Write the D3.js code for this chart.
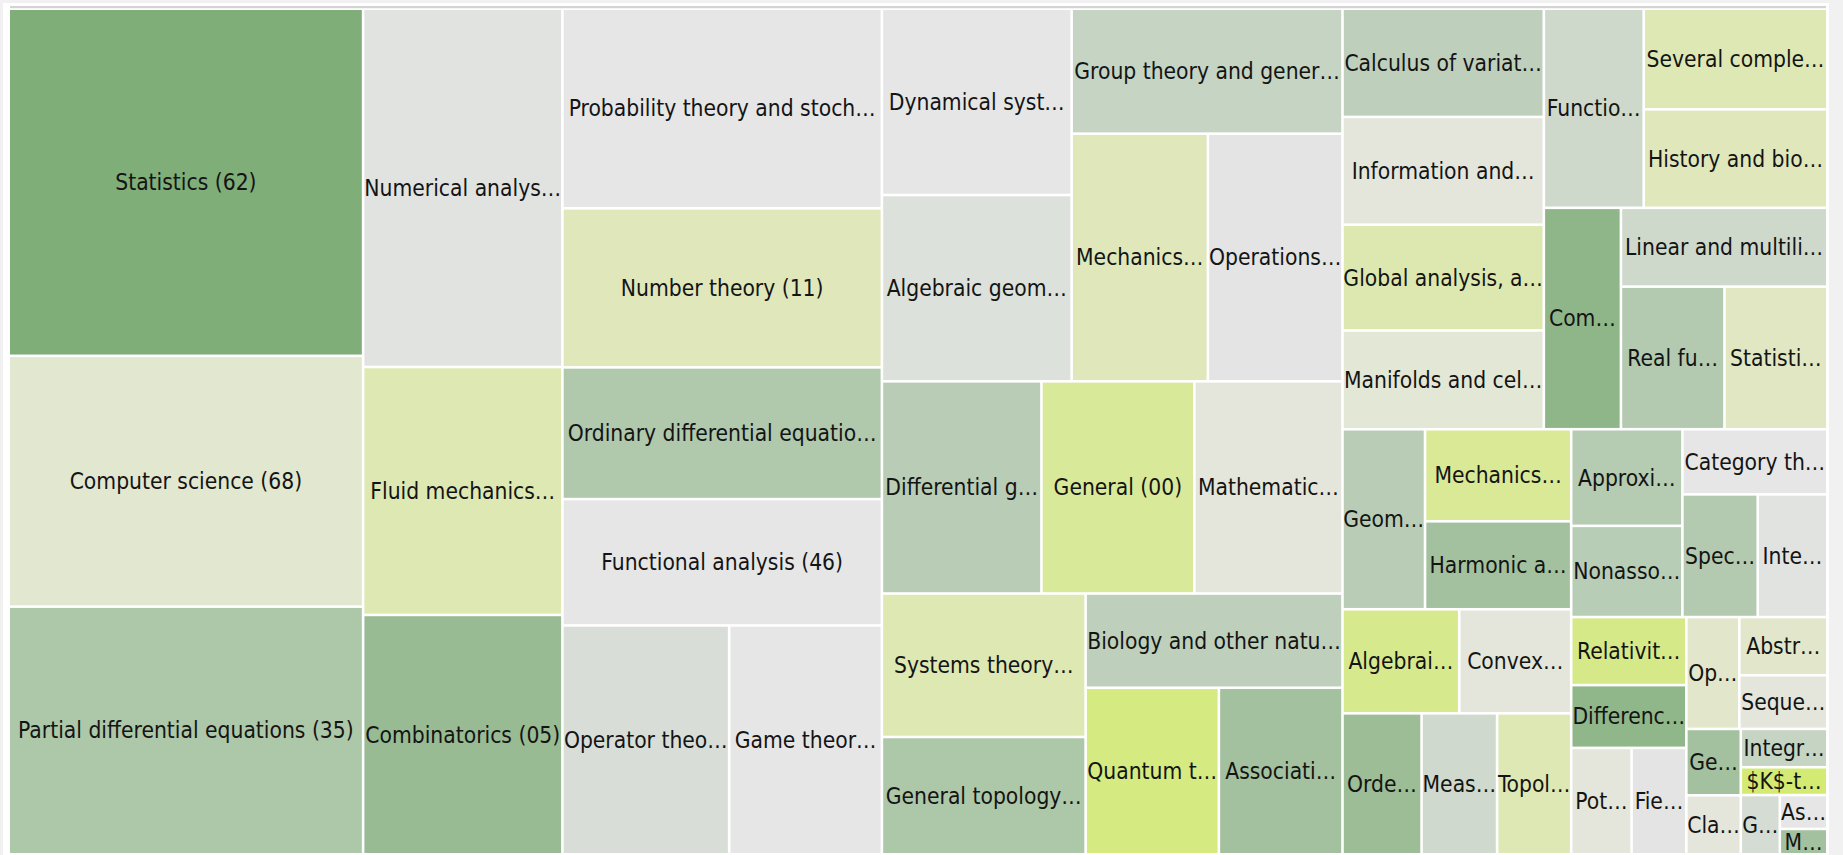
<!DOCTYPE html>
<html>
<head>
<meta charset="utf-8">
<script src="https://cdn.jsdelivr.net/npm/d3@7"></script>
<style>
  html, body { margin: 0; padding: 0; background: #f1f1f1; }
  svg { display: block; }
</style>
</head>
<body>
<svg id="chart"></svg>
<script>
///////////////////////////////////////////
// Data: MSC subject areas, paper counts, colour metric and block nesting
var subjects = [
  "Statistics", "Computer science", "Partial differential equations",
  "Numerical analysis", "Fluid mechanics", "Combinatorics",
  "Probability theory and stochastic processes", "Number theory", "Ordinary differential equations",
  "Functional analysis", "Operator theory", "Game theory, economics, social and behavioral sciences",
  "Dynamical systems and ergodic theory", "Algebraic geometry", "Group theory and generalizations",
  "Mechanics of deformable solids", "Operations research, mathematical programming",
  "Differential geometry", "General", "Mathematical logic and foundations",
  "Systems theory; control", "General topology", "Biology and other natural sciences",
  "Quantum theory", "Associative rings and algebras",
  "Calculus of variations and optimal control; optimization", "Information and communication, circuits",
  "Global analysis, analysis on manifolds", "Manifolds and cell complexes",
  "Functions of a complex variable", "Several complex variables and analytic spaces", "History and biography",
  "Commutative algebra", "Linear and multilinear algebra; matrix theory", "Real functions",
  "Statistical mechanics, structure of matter",
  "Geometry", "Mechanics of particles and systems", "Harmonic analysis on Euclidean spaces",
  "Algebraic topology", "Convex and discrete geometry",
  "Order, lattices, ordered algebraic structures", "Measure and integration", "Topological groups, Lie groups",
  "Approximations and expansions", "Nonassociative rings and algebras", "Category theory; homological algebra",
  "Special functions", "Integral equations",
  "Relativity and gravitational theory", "Difference and functional equations", "Potential theory",
  "Field theory and polynomials", "Optics, electromagnetic theory", "Abstract harmonic analysis",
  "Sequences, series, summability", "Geophysics", "Classical thermodynamics, heat transfer",
  "Integral transforms, operational calculus", "$K$-theory", "General algebraic systems",
  "Astronomy and astrophysics", "Mathematics education"
];
var codes = [
  "62", "68", "35", "65", "76", "05", "60", "11", "34", "46", "47", "91",
  "37", "14", "20", "74", "90", "53", "00", "03", "93", "54", "92", "81", "16",
  "49", "94", "58", "57", "30", "32", "01", "13", "15", "26", "82",
  "51", "70", "42", "55", "52", "06", "28", "22", "41", "17", "18", "33", "45",
  "83", "39", "31", "12", "78", "43", "40", "86", "80", "44", "19", "08", "85", "97"
];
var papers = [
  122.5, 88.5, 87.4, 71.1, 49.2, 47.5, 63.5, 50.6, 41.9, 40.2, 38.0, 34.8,
  35.2, 35.2, 33.7, 33.6, 33.2, 33.7, 32.3, 31.3, 29.1, 23.8, 24.1, 22.1, 20.5,
  21.7, 21.6, 21.2, 19.8, 19.8, 18.4, 18.0, 17.0, 16.2, 14.7, 14.6,
  14.8, 13.4, 12.8, 12.1, 11.6, 11.1, 10.6, 10.4, 10.7, 10.1, 9.4, 9.2, 8.5,
  7.8, 7.2, 6.4, 5.8, 5.9, 5.1, 4.7, 3.6, 3.2, 3.3, 2.4, 2.3, 1.6, 1.2
];
// colour metric: -1 = green, 0 = grey, +1 = yellow-green
var trend = [
  -1.0, 0.19, -0.56, -0.05, 0.45, -0.76, 0, 0.37, -0.53, 0, -0.14, 0,
  0, -0.09, -0.32, 0.37, -0.03, -0.44, 0.66, 0.09, 0.45, -0.56, -0.39, 0.89, -0.66,
  -0.39, 0.09, 0.47, 0.15, -0.24, 0.43, 0.37, -0.85, -0.24, -0.5, 0.31,
  -0.44, 0.7, -0.66, 0.77, 0.09, -0.73, -0.23, 0.43, -0.48, -0.45, 0, -0.5, -0.05,
  0.82, -0.84, 0.09, -0.03, 0.23, 0.23, 0.1, -0.66, 0.09, -0.32, 1.0, -0.17, 0, -0.66
];
// nesting of the blocks seen in the picture
var blocks = [
  "L/1", "L/1", "L/1", "L/2", "L/2", "L/2", "L/3", "L/3", "L/3", "L/3", "L/3/e", "L/3/e",
  "L/4/a/1", "L/4/a/1", "L/4/a/2", "L/4/a/2/b", "L/4/a/2/b", "L/4/b", "L/4/b", "L/4/b",
  "L/4/c/1", "L/4/c/1", "L/4/c/2", "L/4/c/2/b", "L/4/c/2/b",
  "R/t/1", "R/t/1", "R/t/1", "R/t/1", "R/t/2/a", "R/t/2/a/2", "R/t/2/a/2",
  "R/t/2/b", "R/t/2/b/2", "R/t/2/b/2/b", "R/t/2/b/2/b",
  "R/b/1/a", "R/b/1/a/2", "R/b/1/a/2", "R/b/1/b", "R/b/1/b", "R/b/1/c", "R/b/1/c", "R/b/1/c",
  "R/b/2/a/1", "R/b/2/a/1", "R/b/2/a/2", "R/b/2/a/2/b", "R/b/2/a/2/b",
  "R/b/2/b/1", "R/b/2/b/1", "R/b/2/b/1/c", "R/b/2/b/1/c",
  "R/b/2/b/2/x", "R/b/2/b/2/x/b", "R/b/2/b/2/x/b",
  "R/b/2/b/2/y/a", "R/b/2/b/2/y/a", "R/b/2/b/2/y/b", "R/b/2/b/2/y/b",
  "R/b/2/b/2/y/b/c", "R/b/2/b/2/y/b/c/d", "R/b/2/b/2/y/b/c/d"
];

///////////////////////////////////////////
// Layout Setting
var svgWidth = 1843, svgHeight = 855;
var box = {x0: 8.7, y0: 8.7, x1: 1827.3, y1: 854.3};
var gap = 2.6;

var svg = d3.select("#chart").attr("width", svgWidth).attr("height", svgHeight);
svg.append("rect").attr("width", svgWidth).attr("height", svgHeight).attr("fill", "#f1f1f1");
svg.append("rect").attr("x", 3).attr("y", 3).attr("width", 1826).attr("height", svgHeight)
   .attr("fill", "#fff");
svg.append("rect").attr("x", 10).attr("y", 6).attr("width", 1816).attr("height", 2.2)
   .attr("fill", "#d3d3d3");

var color = d3.scaleLinear().domain([-1, 0, 1]).range(["#80ae79", "#e6e6e6", "#d3ea73"]);

///////////////////////////////////////////
// Build the nested tree from the block paths
var rootData = {key: "root", children: []};
subjects.forEach(function(name, i) {
  var node = rootData;
  blocks[i].split("/").forEach(function(k) {
    var next = node.children.find(function(c) { return c.key === k; });
    if (!next) { next = {key: k, children: []}; node.children.push(next); }
    node = next;
  });
  node.children.push({name: name, code: codes[i], value: papers[i], trend: trend[i]});
});

var hierarchy = d3.hierarchy(rootData).sum(function(d) { return d.children ? 0 : d.value; });

// cut along the longer side of every block
function tileByShape(node, x0, y0, x1, y1) {
  (x1 - x0 > y1 - y0 ? d3.treemapDice : d3.treemapSlice)(node, x0, y0, x1, y1);
}

d3.treemap().tile(tileByShape).size([box.x1 - box.x0, box.y1 - box.y0])(hierarchy);

///////////////////////////////////////////
// Font: pick a Tahoma-like face and size it from reference label widths
var ctx = document.createElement("canvas").getContext("2d");
function measure(txt, font) { ctx.font = font; return ctx.measureText(txt).width; }
var family = "'DejaVu Sans', sans-serif";
if (measure("Statistics (62)", "40px 'DejaVu Sans Condensed', monospace") !==
    measure("Statistics (62)", "40px monospace")) {
  family = "'DejaVu Sans Condensed', 'DejaVu Sans', sans-serif";
}
var calib = "Statistics (62)Computer science (68)Functional analysis (46)Number theory (11)";
var fontSize = 22 * (141 + 232 + 244 + 202) / measure(calib, "22px " + family);
var fontSpec = fontSize + "px " + family;

function fitLabel(txt, w) {
  if (measure(txt, fontSpec) <= w) return txt;
  var s = txt;
  while (s.length > 1) {
    s = s.slice(0, -1);
    var t = s.replace(/[\s,;]+$/, "") + "…";
    if (measure(t, fontSpec) <= w) return t;
  }
  return s + "…";
}

///////////////////////////////////////////
// Draw
var g = svg.append("g").attr("transform", "translate(" + [box.x0, box.y0] + ")");
var cell = g.selectAll("g.cell").data(hierarchy.leaves()).enter().append("g").classed("cell", true);

cell.append("rect")
  .attr("x", function(d) { return d.x0 + gap / 2; })
  .attr("y", function(d) { return d.y0 + gap / 2; })
  .attr("width", function(d) { return Math.max(0, d.x1 - d.x0 - gap); })
  .attr("height", function(d) { return Math.max(0, d.y1 - d.y0 - gap); })
  .attr("fill", function(d) { return color(d.data.trend); });

cell.append("text")
  .attr("x", function(d) { return (d.x0 + d.x1) / 2; })
  .attr("y", function(d) { return (d.y0 + d.y1) / 2; })
  .attr("text-anchor", "middle")
  .attr("dominant-baseline", "central")
  .style("font", fontSpec)
  .attr("fill", "#141414")
  .text(function(d) {
    return fitLabel(d.data.name + " (" + d.data.code + ")", d.x1 - d.x0 - gap + 1);
  });
</script>
</body>
</html>
